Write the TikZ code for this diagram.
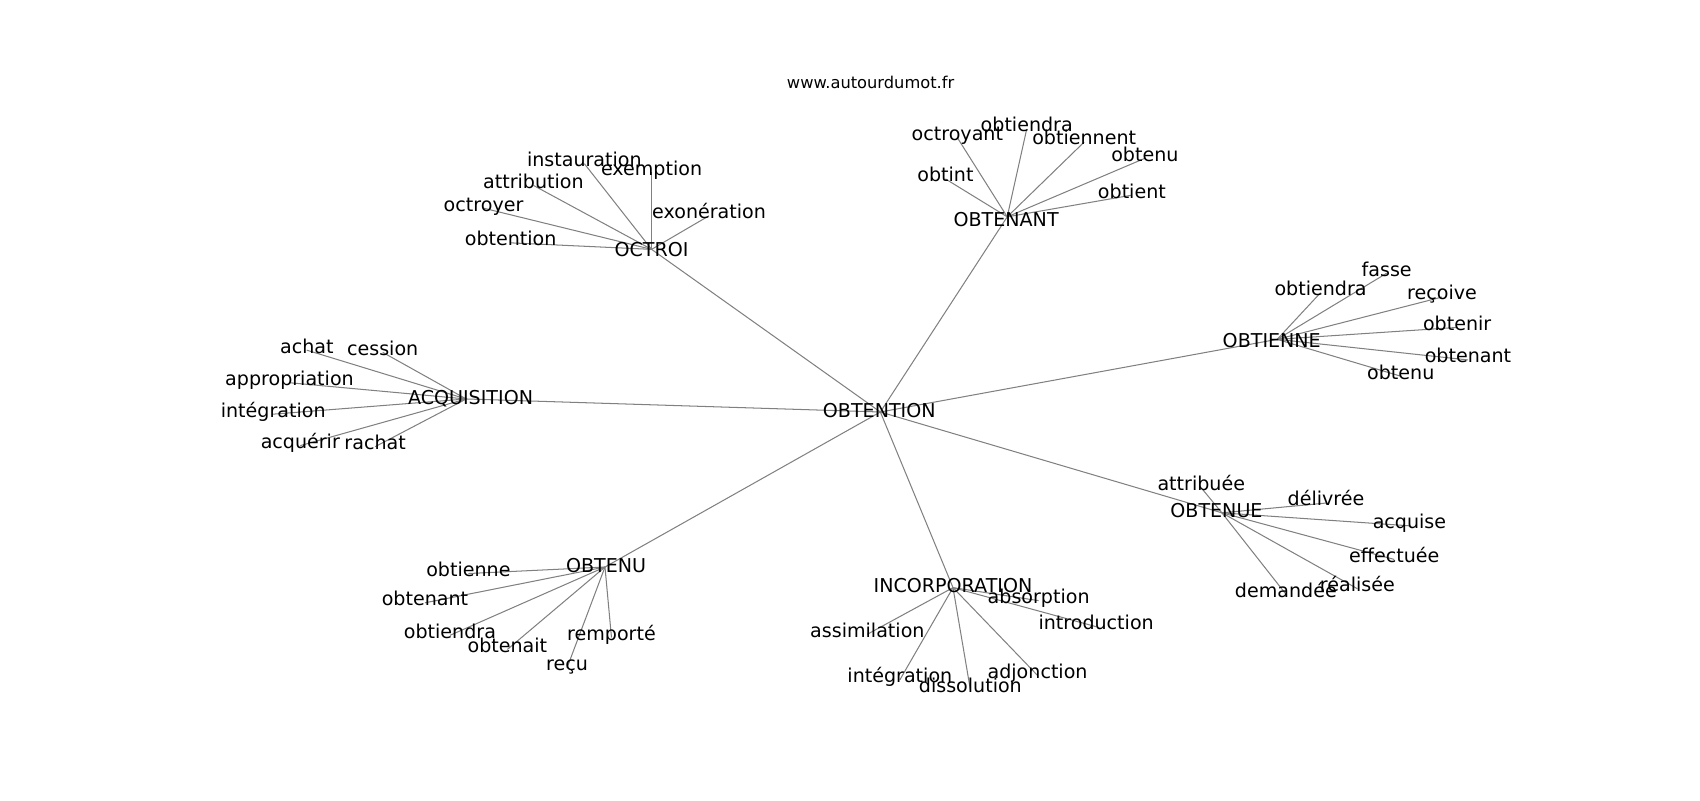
\documentclass[tikz,border=0pt]{standalone}
\usepackage{fontspec}
\setmainfont{DejaVu Sans}
\pgfdeclarelayer{background}
\pgfsetlayers{background,main}
\begin{document}
\begin{tikzpicture}[x=1pt,y=-1pt,
  lbl/.style={inner sep=0pt,yshift=-3pt,font=\fontsize{17.6pt}{20pt}\selectfont,text height=0.76em,text depth=0.23em,text=black},
  ttl/.style={inner sep=0pt,font=\fontsize{15pt}{18pt}\selectfont,text=black},
  edge/.style={draw=black!50,line width=0.95pt}]
\useasboundingbox (0,0) rectangle (1568,738);
\node[ttl] (title) at (803,76) {www.autourdumot.fr};
% hubs
\node[lbl] (c) at (811,379) {OBTENTION};
\node[lbl] (oc) at (601,231) {OCTROI};
\node[lbl] (on) at (928,203) {OBTENANT};
\node[lbl] (oi) at (1173,315) {OBTIENNE};
\node[lbl] (aq) at (434,367) {ACQUISITION};
\node[lbl] (oe) at (1122,472) {OBTENUE};
\node[lbl] (ip) at (879,541) {INCORPORATION};
\node[lbl] (ou) at (559,522) {OBTENU};
% hub edge points
\coordinate (pc) at (812,380);
\coordinate (poc) at (601,230);
\coordinate (pon) at (929,200);
\coordinate (poi) at (1178,313);
\coordinate (paq) at (430,368);
\coordinate (poe) at (1127,473);
\coordinate (pip) at (879,542);
\coordinate (pou) at (558,523);
% OCTROI leaves
\node[lbl] (oc1) at (539,148) {instauration};
\node[lbl] (oc2) at (601,156) {exemption};
\node[lbl] (oc3) at (492,168) {attribution};
\node[lbl] (oc4) at (446,189) {octroyer};
\node[lbl] (oc5) at (654,196) {exonération};
\node[lbl] (oc6) at (471,221) {obtention};
% OBTENANT leaves
\node[lbl] (on1) at (883,124) {octroyant};
\node[lbl] (on2) at (947,116) {obtiendra};
\node[lbl] (on3) at (1000,128) {obtiennent};
\node[lbl] (on4) at (1056,143) {obtenu};
\node[lbl] (on5) at (872,162) {obtint};
\node[lbl] (on6) at (1044,177) {obtient};
% OBTIENNE leaves
\node[lbl] (oi1) at (1279,249) {fasse};
\node[lbl] (oi2) at (1218,267) {obtiendra};
\node[lbl] (oi3) at (1330,271) {reçoive};
\node[lbl] (oi4) at (1344,299) {obtenir};
\node[lbl] (oi5) at (1354,329) {obtenant};
\node[lbl] (oi6) at (1292,344) {obtenu};
% ACQUISITION leaves
\node[lbl] (aq1) at (283,320) {achat};
\node[lbl] (aq2) at (353,322) {cession};
\node[lbl] (aq3) at (267,350) {appropriation};
\node[lbl] (aq4) at (252,379) {intégration};
\node[lbl] (aq5) at (277,408) {acquérir};
\node[lbl] (aq6) at (346,409) {rachat};
% OBTENUE leaves
\node[lbl] (oe1) at (1108,447) {attribuée};
\node[lbl] (oe2) at (1223,461) {délivrée};
\node[lbl] (oe3) at (1300,482) {acquise};
\node[lbl] (oe4) at (1286,513) {effectuée};
\node[lbl] (oe5) at (1252,540) {réalisée};
\node[lbl] (oe6) at (1186,545) {demandée};
% INCORPORATION leaves
\node[lbl] (ip1) at (958,551) {absorption};
\node[lbl] (ip2) at (1011,575) {introduction};
\node[lbl] (ip3) at (800,582) {assimilation};
\node[lbl] (ip4) at (830,624) {intégration};
\node[lbl] (ip5) at (895,633) {dissolution};
\node[lbl] (ip6) at (957,620) {adjonction};
% OBTENU leaves
\node[lbl] (ou1) at (432,526) {obtienne};
\node[lbl] (ou2) at (392,553) {obtenant};
\node[lbl] (ou3) at (415,583) {obtiendra};
\node[lbl] (ou4) at (468,596) {obtenait};
\node[lbl] (ou5) at (564,585) {remporté};
\node[lbl] (ou6) at (523,613) {reçu};
\begin{pgfonlayer}{background}
\foreach \h in {poc,pon,poi,paq,poe,pip,pou} \draw[edge] (pc) -- (\h);
\foreach \l in {oc1,oc2,oc3,oc4,oc5,oc6} \draw[edge] (poc) -- (\l.center);
\foreach \l in {on1,on2,on3,on4,on5,on6} \draw[edge] (pon) -- (\l.center);
\foreach \l in {oi1,oi2,oi3,oi4,oi5,oi6} \draw[edge] (poi) -- (\l.center);
\foreach \l in {aq1,aq2,aq3,aq4,aq5,aq6} \draw[edge] (paq) -- (\l.center);
\foreach \l in {oe1,oe2,oe3,oe4,oe5,oe6} \draw[edge] (poe) -- (\l.center);
\foreach \l in {ip1,ip2,ip3,ip4,ip5,ip6} \draw[edge] (pip) -- (\l.center);
\foreach \l in {ou1,ou2,ou3,ou4,ou5,ou6} \draw[edge] (pou) -- (\l.center);
\end{pgfonlayer}
\end{tikzpicture}
\end{document}
